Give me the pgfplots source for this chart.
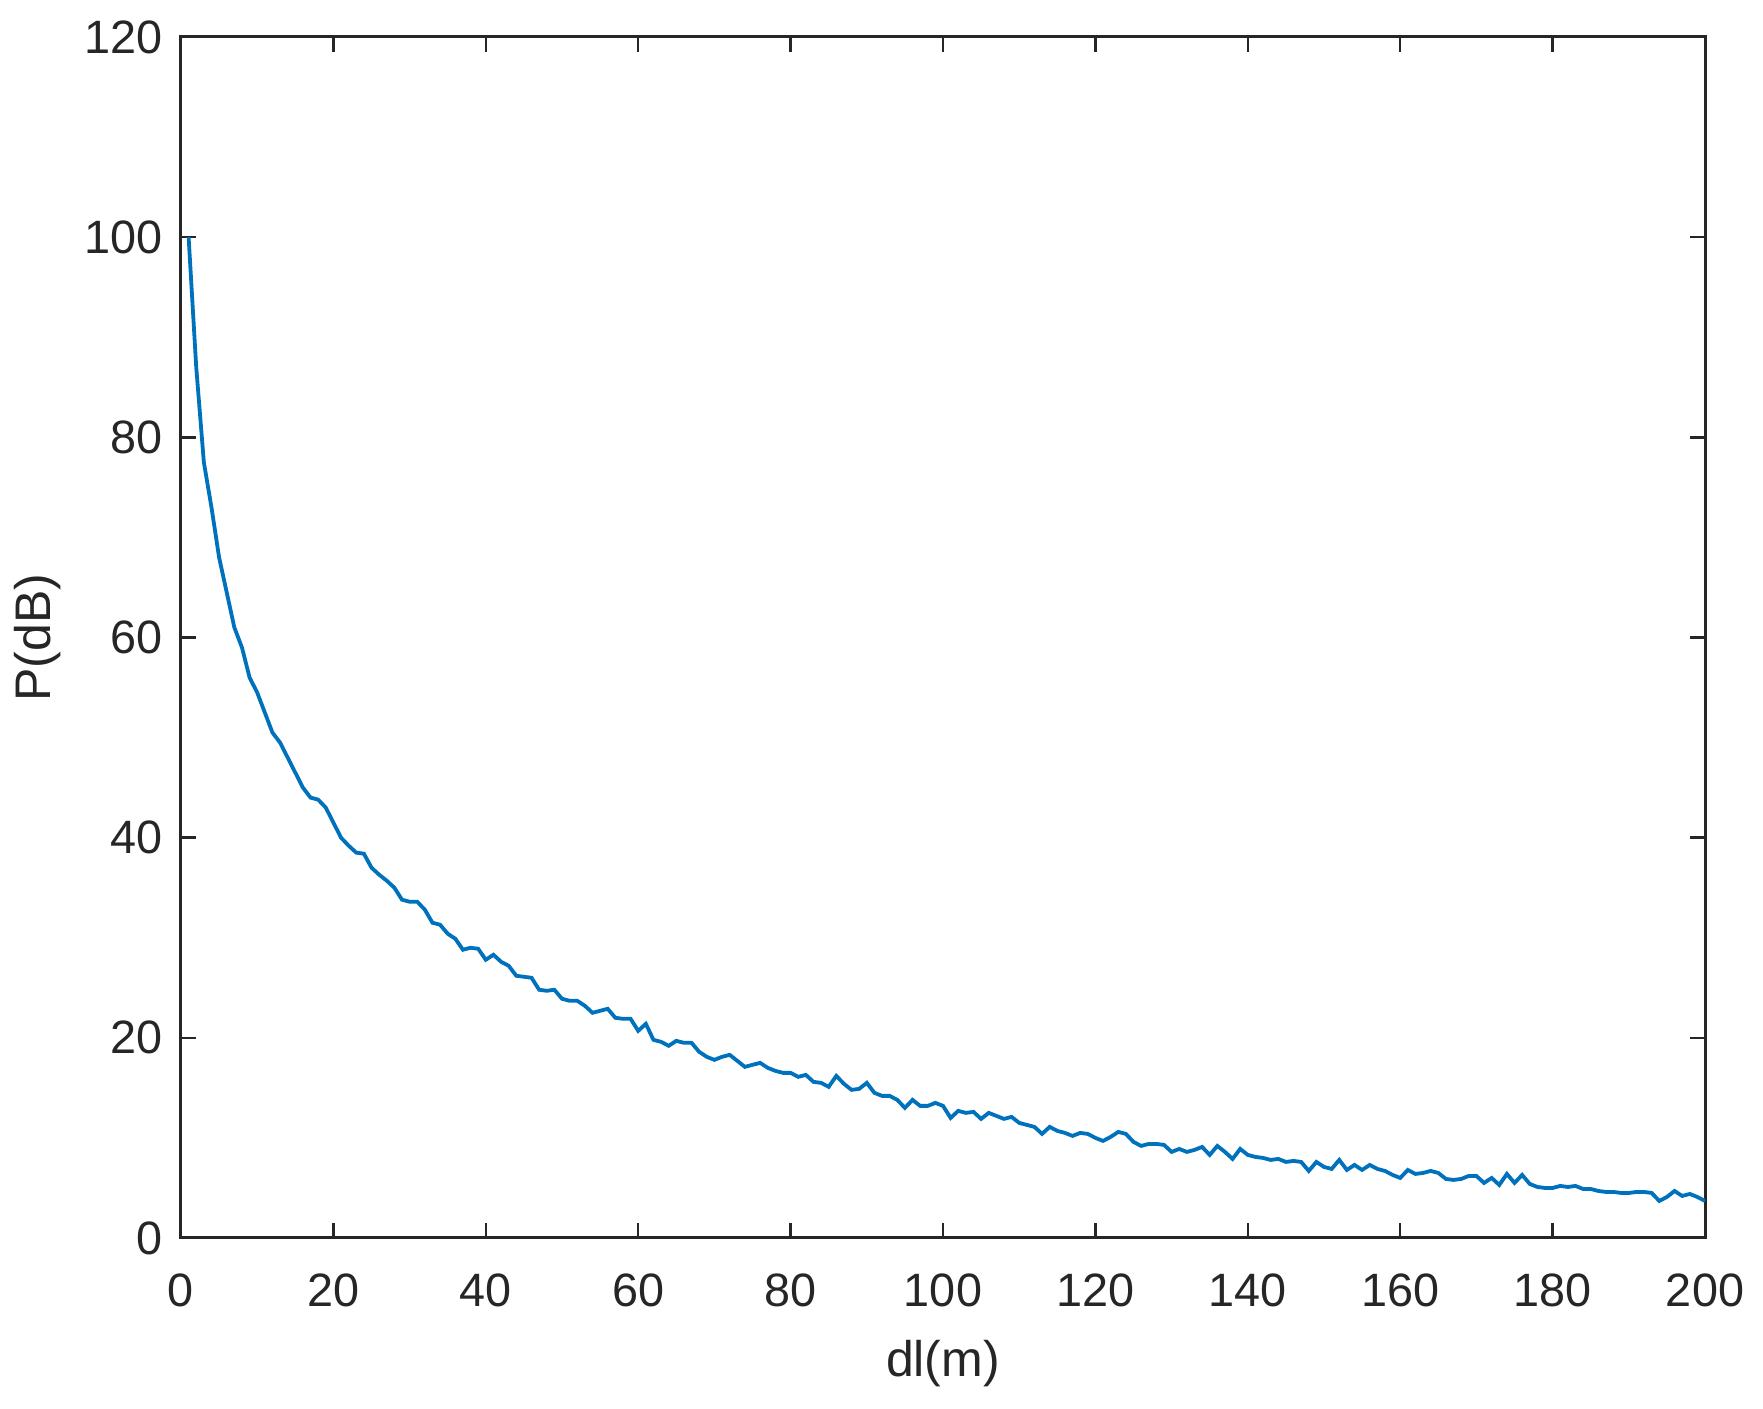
\documentclass[border=0pt]{standalone}
\usepackage{fontspec}
\setmainfont{Liberation Sans}
\usepackage{pgfplots}
\pgfplotsset{compat=1.18}
\definecolor{mblue}{HTML}{0072BD}
\definecolor{axgray}{HTML}{262626}
\begin{document}
\begin{tikzpicture}
\begin{axis}[
	scale only axis,
	width=381pt, height=300.25pt,
	xmin=0, xmax=200, ymin=0, ymax=120,
	xtick={0,20,...,200}, ytick={0,20,...,120},
	tick align=inside,
	major tick length=3.75pt,
	tick style={axgray, line width=0.6pt},
	axis line style={axgray, line width=0.75pt},
	every tick label/.append style={font=\fontsize{11.7}{13}\selectfont, text=axgray},
	xticklabel style={yshift=-5.3pt},
	yticklabel style={xshift=-1.1pt},
	label style={font=\fontsize{12.5}{14}\selectfont, text=axgray},
	/pgf/number format/assume math mode=true,
	xlabel={dl(m)}, ylabel={P(dB)},
	xlabel style={yshift=-1.5pt},
	ylabel style={yshift=-1pt},
]
\addplot[mblue, line width=0.95pt, mark=none] coordinates {
(1,100)(2,87)(3,77.5)(4,73)(5,68)(6,64.5)(7,61)(8,59)(9,56)(10,54.5)
(11,52.5)(12,50.5)(13,49.5)(14,48)(15,46.5)(16,45)(17,44)(18,43.8)(19,43)(20,41.5)
(21,40)(22,39.2)(23,38.5)(24,38.4)(25,37)(26,36.3)(27,35.7)(28,35)(29,33.8)(30,33.6)
(31,33.6)(32,32.8)(33,31.5)(34,31.3)(35,30.4)(36,29.9)(37,28.8)(38,29)(39,28.9)(40,27.8)
(41,28.3)(42,27.6)(43,27.2)(44,26.2)(45,26.1)(46,26)(47,24.8)(48,24.7)(49,24.8)(50,23.9)
(51,23.7)(52,23.7)(53,23.2)(54,22.5)(55,22.7)(56,22.9)(57,22)(58,21.9)(59,21.9)(60,20.7)
(61,21.4)(62,19.8)(63,19.6)(64,19.2)(65,19.7)(66,19.5)(67,19.5)(68,18.6)(69,18.1)(70,17.8)
(71,18.1)(72,18.3)(73,17.7)(74,17.1)(75,17.3)(76,17.5)(77,17)(78,16.7)(79,16.5)(80,16.5)
(81,16.1)(82,16.3)(83,15.6)(84,15.5)(85,15.1)(86,16.2)(87,15.4)(88,14.8)(89,14.9)(90,15.5)
(91,14.5)(92,14.2)(93,14.2)(94,13.8)(95,13)(96,13.8)(97,13.2)(98,13.2)(99,13.5)(100,13.2)
(101,12)(102,12.7)(103,12.5)(104,12.6)(105,11.9)(106,12.5)(107,12.2)(108,11.9)(109,12.1)(110,11.5)
(111,11.3)(112,11.1)(113,10.4)(114,11.1)(115,10.7)(116,10.5)(117,10.2)(118,10.5)(119,10.4)(120,10)
(121,9.7)(122,10.1)(123,10.6)(124,10.4)(125,9.6)(126,9.2)(127,9.4)(128,9.4)(129,9.3)(130,8.6)
(131,8.9)(132,8.6)(133,8.8)(134,9.1)(135,8.3)(136,9.2)(137,8.6)(138,7.9)(139,8.9)(140,8.3)
(141,8.1)(142,8)(143,7.8)(144,7.9)(145,7.6)(146,7.7)(147,7.6)(148,6.7)(149,7.6)(150,7.1)
(151,6.9)(152,7.8)(153,6.8)(154,7.3)(155,6.8)(156,7.3)(157,6.9)(158,6.7)(159,6.3)(160,6)
(161,6.8)(162,6.4)(163,6.5)(164,6.7)(165,6.5)(166,5.9)(167,5.8)(168,5.9)(169,6.2)(170,6.2)
(171,5.5)(172,6)(173,5.3)(174,6.4)(175,5.5)(176,6.3)(177,5.4)(178,5.1)(179,5)(180,5)
(181,5.2)(182,5.1)(183,5.2)(184,4.9)(185,4.9)(186,4.7)(187,4.6)(188,4.6)(189,4.5)(190,4.5)
(191,4.6)(192,4.6)(193,4.5)(194,3.7)(195,4.1)(196,4.7)(197,4.2)(198,4.4)(199,4.1)(200,3.7)
};
\end{axis}
\pgfresetboundingbox
\path[use as bounding box] (current axis.south west) ++(-45.25pt,-42.75pt) rectangle ++(440.75pt,352.25pt);
\end{tikzpicture}
\end{document}
